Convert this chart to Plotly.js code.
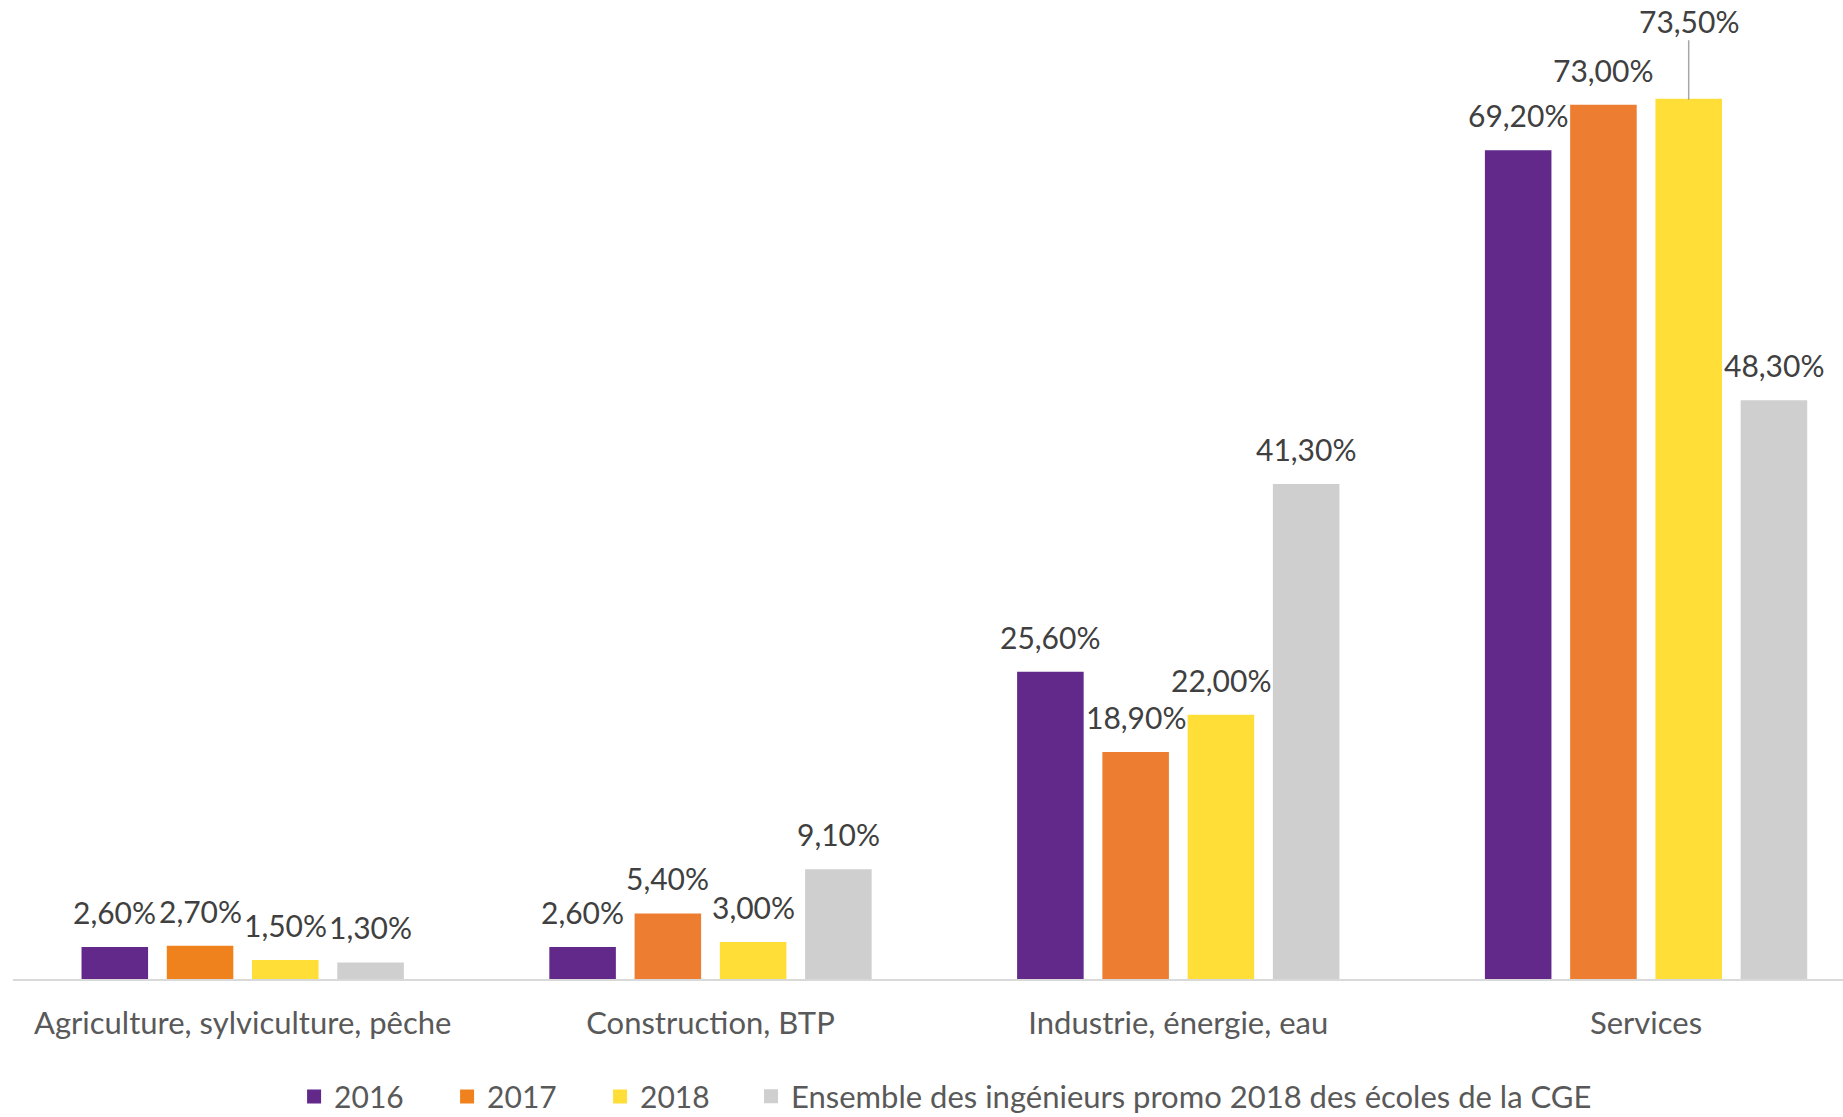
<!DOCTYPE html>
<html>
<head>
<meta charset="utf-8">
<script src="https://cdn.plot.ly/plotly-3.0.1.min.js"></script>
<style>html,body{margin:0;padding:0;background:#fff;}#chart{width:1843px;height:1117px;}</style>
</head>
<body>
<div id="chart"></div>
<script>
const categories = ["Agriculture, sylviculture, pêche", "Construction, BTP", "Industrie, énergie, eau", "Services"];
const seriesNames = ["2016", "2017", "2018", "Ensemble des ingénieurs promo 2018 des écoles de la CGE"];
const values2016 = [2.6, 2.6, 25.6, 69.2];
const values2017 = [2.7, 5.4, 18.9, 73.0];
const values2018 = [1.5, 3.0, 22.0, 73.5];
const valuesCGE = [1.3, 9.1, 41.3, 48.3];
const labels2016 = ["2,60%", "2,60%", "25,60%", "69,20%"];
const labels2017 = ["2,70%", "5,40%", "18,90%", "73,00%"];
const labels2018 = ["1,50%", "3,00%", "22,00%", "73,50%"];
const labelsCGE = ["1,30%", "9,10%", "41,30%", "48,30%"];

const colors = ["#62288A", "#ED7D31", "#FFDE38", "#D0CFD0"];
const orangeColors = ["#F0821E", "#ED7D31", "#ED7D31", "#ED7D31"];
const FONT = "Lato, 'Open Sans', sans-serif";
const bargap = 0.271;
const bargroupgap = 0.243;

const allValues = [values2016, values2017, values2018, valuesCGE];
const allLabels = [labels2016, labels2017, labels2018, labelsCGE];
const markerColors = [colors[0], orangeColors, colors[2], colors[3]];
const legendIds = ["legend", "legend2", "legend3", "legend4"];
const legendX = [0.1536, 0.2372, 0.3208, 0.4033];
const legendFontSizes = [30, 30, 30, 31];

const traces = allValues.map((vals, j) => ({
  type: "bar",
  name: seriesNames[j],
  legend: legendIds[j],
  x: categories,
  y: vals,
  marker: {color: markerColors[j], line: {width: 2, color: markerColors[j]}},
  hoverinfo: "none"
}));

const slot = (1 - bargap) / allValues.length;
const annotations = [];
allValues.forEach((vals, j) => {
  vals.forEach((v, i) => {
    const x = i + (j - (allValues.length - 1) / 2) * slot;
    const isMax = (v === Math.max(...allValues.map(a => a[i]))) && i === 3;
    if (isMax) {
      annotations.push({
        x: x, y: v, xref: "x", yref: "y",
        text: allLabels[j][i],
        showarrow: true, arrowhead: 0, arrowwidth: 1.5, arrowcolor: "#A6A6A6",
        ax: 0, ay: -79, standoff: 0,
        font: {family: FONT, size: 30, color: "#404040"}
      });
    } else {
      annotations.push({
        x: x, y: v, xref: "x", yref: "y",
        text: allLabels[j][i],
        showarrow: false, yanchor: "bottom", yshift: 16,
        font: {family: FONT, size: 30, color: "#404040"}
      });
    }
  });
});

const layout = {
  width: 1843, height: 1117,
  margin: {l: 13, r: 0, t: 22, b: 138, pad: 0},
  paper_bgcolor: "#ffffff", plot_bgcolor: "#ffffff",
  barmode: "group", bargap: bargap, bargroupgap: bargroupgap,
  font: {family: FONT, color: "#595959"},
  showlegend: true,
  xaxis: {
    type: "category",
    range: [-0.491, 3.421],
    showline: true, linecolor: "#D9D9D9", linewidth: 2,
    ticks: "outside", ticklen: 16, tickcolor: "rgba(0,0,0,0)",
    showgrid: false, zeroline: false,
    tickfont: {family: FONT, size: 31, color: "#595959"},
    fixedrange: true
  },
  yaxis: {
    range: [0, 80], showgrid: false, zeroline: false, showticklabels: false,
    showline: false, ticks: "", fixedrange: true
  },
  annotations: annotations
};
legendIds.forEach((id, j) => {
  layout[id] = {
    orientation: "h", xref: "paper", x: legendX[j], xanchor: "left",
    yref: "container", y: 0.0183, yanchor: "middle",
    font: {family: FONT, size: legendFontSizes[j], color: "#595959"},
    bgcolor: "rgba(0,0,0,0)", itemsizing: "constant"
  };
});

Plotly.newPlot("chart", traces, layout, {displayModeBar: false, staticPlot: true});
</script>
</body>
</html>
